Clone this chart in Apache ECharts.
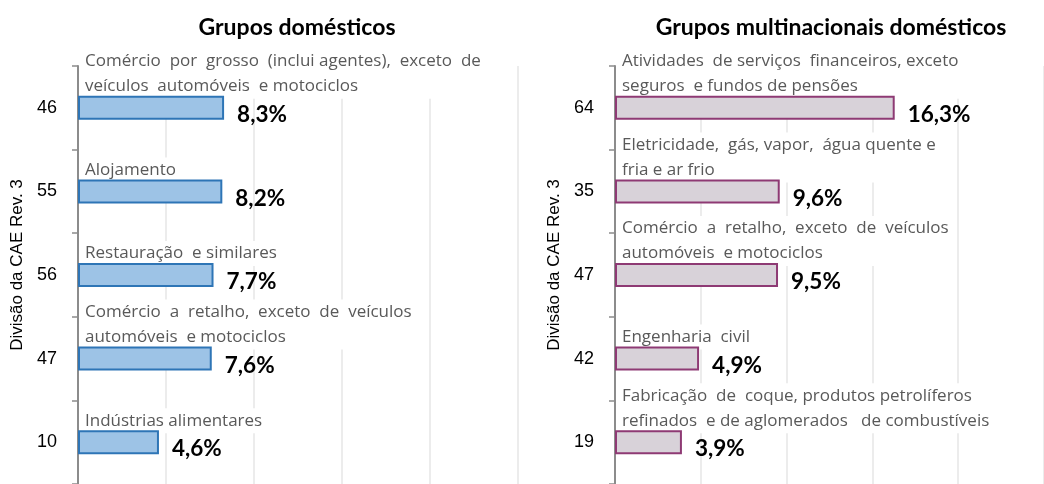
<!DOCTYPE html>
<html>
<head>
<meta charset="utf-8">
<script src="https://cdn.jsdelivr.net/npm/echarts@6/dist/echarts.min.js"></script>
<style>
html,body{margin:0;padding:0;background:#fff;}
#chart{width:1044px;height:484px;}
</style>
</head>
<body>
<div id="chart"></div>
<script>
const titles = ['Grupos domésticos', 'Grupos multinacionais domésticos'];
const axisName = 'Divisão da CAE Rev. 3';

const leftCodes = ['46', '55', '56', '47', '10'];
const leftNames = [
  'Comércio  por  grosso  (inclui agentes),  exceto  de\nveículos  automóveis  e motociclos',
  'Alojamento',
  'Restauração  e similares',
  'Comércio  a  retalho,  exceto  de  veículos\nautomóveis  e motociclos',
  'Indústrias alimentares'
];
const leftValues = [8.3, 8.2, 7.7, 7.6, 4.6];

const rightCodes = ['64', '35', '47', '42', '19'];
const rightNames = [
  'Atividades  de serviços  financeiros, exceto\nseguros  e fundos de pensões',
  'Eletricidade,  gás, vapor,  água quente e\nfria e ar frio',
  'Comércio  a  retalho,  exceto  de  veículos\nautomóveis  e motociclos',
  'Engenharia  civil',
  'Fabricação  de  coque, produtos petrolíferos\nrefinados  e de aglomerados   de combustíveis'
];
const rightValues = [16.3, 9.6, 9.5, 4.9, 3.9];

const xMax = 25;
const xStep = 5;

const textFont = '"Open Sans", sans-serif';
const boldFont = 'Lato, "Open Sans", sans-serif';
const fmtPct = v => v.toFixed(1).replace('.', ',') + '%';

function xAxisFor(i) {
  return {
    gridIndex: i, type: 'value', min: 0, max: xMax, interval: xStep,
    axisLine: {show: false}, axisTick: {show: false}, axisLabel: {show: false},
    splitLine: {show: true, lineStyle: {color: '#e6e6e6', width: 1.5}}
  };
}
function yAxisFor(i, codes) {
  return {
    gridIndex: i, type: 'category', data: codes, inverse: true,
    name: axisName, nameLocation: 'middle', nameGap: 52, nameRotate: 90,
    nameTextStyle: {fontFamily: '"Liberation Sans", Arial, sans-serif', fontSize: 17, color: '#000', padding: [0, 0, 0, 20]},
    axisLine: {show: true, lineStyle: {color: '#8c8c8c', width: 2}},
    axisTick: {show: true, inside: false, length: 6, lineStyle: {color: '#8c8c8c', width: 1.5}},
    axisLabel: {fontFamily: '"Liberation Sans", Arial, sans-serif', fontSize: 18, color: '#000', margin: 21},
    splitLine: {show: false}
  };
}
function barSeries(i, values, fill, stroke) {
  return {
    type: 'bar', xAxisIndex: i, yAxisIndex: i, data: values, barWidth: 24,
    itemStyle: {color: fill, borderColor: stroke, borderWidth: 2},
    label: {
      show: true, position: 'right', distance: 13, offset: [0, 7],
      formatter: p => fmtPct(p.value),
      fontFamily: boldFont, fontWeight: 'bold', fontSize: 22.5, color: '#000'
    },
    silent: true, z: 3
  };
}
function nameSeries(i, values, names) {
  return {
    type: 'bar', xAxisIndex: i, yAxisIndex: i, data: values, barWidth: 24, barGap: '-100%',
    itemStyle: {color: 'rgba(0,0,0,0)'},
    label: {
      show: true, position: [5, 3], align: 'left', verticalAlign: 'bottom',
      formatter: p => names[p.dataIndex],
      fontFamily: textFont, fontSize: 17, lineHeight: 25, color: '#595959',
      backgroundColor: '#ffffff', padding: [0, 2, 0, 2]
    },
    silent: true, z: 2
  };
}

const chart = echarts.init(document.getElementById('chart'), null, {renderer: 'canvas'});
chart.setOption({
  animation: false,
  backgroundColor: '#ffffff',
  title: [
    {text: titles[0], left: 292, top: 11, textAlign: 'center',
     textStyle: {fontFamily: boldFont, fontWeight: 'bold', fontSize: 23, color: '#000'}},
    {text: titles[1], left: 826, top: 11, textAlign: 'center',
     textStyle: {fontFamily: boldFont, fontWeight: 'bold', fontSize: 23, color: '#000'}}
  ],
  grid: [
    {left: 78, top: 66, width: 440, height: 422},
    {left: 615, top: 66, width: 440, height: 422}
  ],
  xAxis: [xAxisFor(0), xAxisFor(1)],
  yAxis: [yAxisFor(0, leftCodes), yAxisFor(1, rightCodes)],
  series: [
    barSeries(0, leftValues, '#9dc3e6', '#2e75b6'),
    nameSeries(0, leftValues, leftNames),
    barSeries(1, rightValues, '#d8d2d9', '#8e3a74'),
    nameSeries(1, rightValues, rightNames)
  ]
});
</script>
</body>
</html>
